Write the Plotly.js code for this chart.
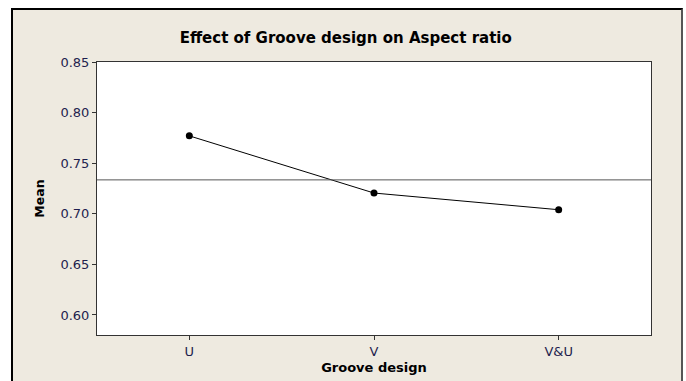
<!DOCTYPE html>
<html>
<head>
<meta charset="utf-8">
<script src="https://cdn.plot.ly/plotly-3.0.1.min.js"></script>
<style>
  html, body { margin: 0; padding: 0; background: #ffffff; }
  #frame { position: absolute; left: 11px; top: 8px; width: 668px; height: 373px;
           background: #EEEAE0; border-left: 2px solid #000; border-top: 2px solid #000;
           border-right: 2px solid #555; }
  #chart { position: absolute; left: 0; top: 0; width: 686px; height: 381px; }
</style>
</head>
<body>
<div id="frame"></div>
<div id="chart"></div>
<script>
const categories = ["U", "V", "V&U"];
const meanValues = [0.777, 0.7205, 0.704];
const grandMean = 0.7335;
const yTicks = [0.60, 0.65, 0.70, 0.75, 0.80, 0.85];
const yTickLabels = ["0.60", "0.65", "0.70", "0.75", "0.80", "0.85"];

const tickColor = "#1e1e4e";
const trace = {
  x: categories,
  y: meanValues,
  type: "scatter",
  mode: "lines+markers",
  line: { color: "#000000", width: 1 },
  marker: { color: "#000000", size: 7, symbol: "circle" },
  hoverinfo: "skip",
  showlegend: false
};

const layout = {
  width: 686,
  height: 381,
  margin: { l: 97, r: 35, t: 62, b: 46, pad: 0 },
  paper_bgcolor: "rgba(0,0,0,0)",
  plot_bgcolor: "#ffffff",
  font: { family: "DejaVu Sans, sans-serif", color: "#000000" },
  title: {
    text: "<b>Effect of Groove design on Aspect ratio</b>",
    font: { family: "DejaVu Sans, sans-serif", size: 15, color: "#000000" },
    x: 0.504, xref: "container", xanchor: "center",
    y: 0.9, yref: "container", yanchor: "middle"
  },
  xaxis: {
    type: "category",
    range: [-0.5, 2.5],
    showgrid: false,
    zeroline: false,
    showline: true, mirror: true, linecolor: "#333333", linewidth: 1,
    ticks: "outside", ticklen: 4, tickcolor: "#333333",
    tickfont: { size: 13, color: tickColor },
    title: { text: "<b>Groove design</b>", font: { size: 13, color: "#000000" }, standoff: 5 }
  },
  yaxis: {
    range: [0.5802, 0.85],
    tickvals: yTicks,
    ticktext: yTickLabels,
    showgrid: false,
    zeroline: false,
    showline: true, mirror: true, linecolor: "#333333", linewidth: 1,
    ticks: "outside", ticklen: 4, tickcolor: "#333333",
    tickfont: { size: 13, color: tickColor },
    title: { text: "<b>Mean</b>", font: { size: 12.5, color: "#000000" }, standoff: 13 }
  },
  shapes: [{
    type: "line", xref: "paper", x0: 0, x1: 1, yref: "y", y0: grandMean, y1: grandMean,
    line: { color: "#555555", width: 1 }
  }]
};

Plotly.newPlot("chart", [trace], layout, { displayModeBar: false, staticPlot: true });
</script>
</body>
</html>
